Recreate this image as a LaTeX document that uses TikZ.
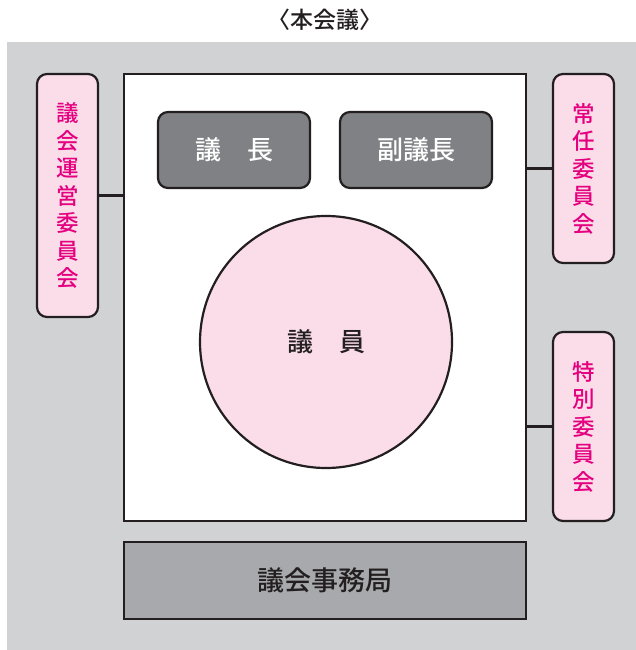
\documentclass[tikz,border=0pt]{standalone}
\usepackage{fontspec}
\setmainfont{Noto Sans CJK JP Medium}
\definecolor{bggray}{HTML}{D1D2D4}
\definecolor{pinkfill}{HTML}{FBDDE9}
\definecolor{magentatext}{HTML}{E4007F}
\definecolor{darkbox}{HTML}{808184}
\definecolor{midbox}{HTML}{A7A9AC}
\definecolor{ink}{HTML}{231F20}
\tikzset{
  frame/.style={draw=ink, line width=2.2pt, rectangle, inner sep=0pt},
  committee/.style={frame, rounded corners=10pt, fill=pinkfill, text=magentatext,
    minimum width=61pt, align=center, font=\fontsize{22.5}{27.5}\selectfont},
  officer/.style={frame, rounded corners=10pt, fill=darkbox, text=white,
    minimum width=152pt, minimum height=76pt, font=\fontsize{26}{30}\selectfont},
  link/.style={draw=ink, line width=2.2pt},
}
\begin{document}
\begin{tikzpicture}[x=1pt,y=-1pt]
\useasboundingbox (0,0) rectangle (636,650);
\fill[bggray] (7,42) rectangle (636,650);
\node[text=ink, font=\fontsize{23}{26}\selectfont] (title) at (325,20) {〈本会議〉};
\node[frame, fill=white, minimum width=402pt, minimum height=447pt] (hall) at (325,297.5) {};
\node[officer] (chair) at (234,150) {議　長};
\node[officer] (vice) at (416,150) {副議長};
\node[frame, circle, fill=pinkfill, minimum size=252pt, text=ink, font=\fontsize{26}{30}\selectfont] (members) at (326,342) {議　員};
\node[committee, minimum height=243pt] (steer) at (67.5,195.5) {議\\会\\運\\営\\委\\員\\会};
\node[committee, minimum height=189pt] (standing) at (583.5,168.5) {常\\任\\委\\員\\会};
\node[committee, minimum height=189pt] (special) at (583.5,426.5) {特\\別\\委\\員\\会};
\node[frame, fill=midbox, minimum width=402pt, minimum height=77pt, text=ink, font=\fontsize{27}{30}\selectfont] (secretariat) at (325,580.5) {議会事務局};
\draw[link] (steer.east) -- (steer.east -| hall.west);
\draw[link] (standing.west) -- (standing.west -| hall.east);
\draw[link] (special.west) -- (special.west -| hall.east);
\end{tikzpicture}
\end{document}
